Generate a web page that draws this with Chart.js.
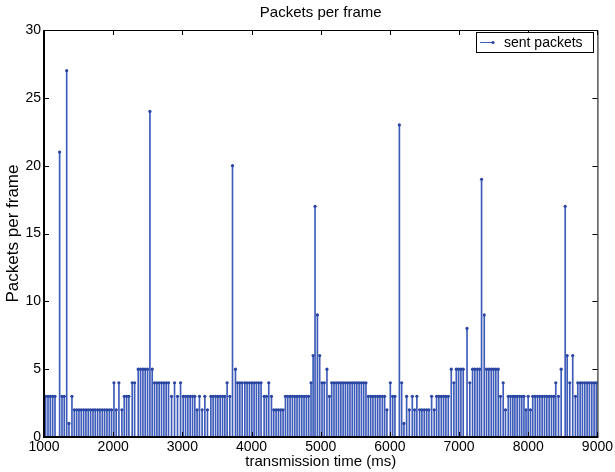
<!DOCTYPE html>
<html>
<head>
<meta charset="utf-8">
<title>Packets per frame</title>
<script src="https://cdn.jsdelivr.net/npm/chart.js@4.4.0/dist/chart.umd.min.js"></script>
<style>
  html, body { margin: 0; padding: 0; background: #fff; }
  #packetsChart { display: block; }
</style>
</head>
<body>
<canvas id="packetsChart" width="615" height="472"></canvas>
<script>
// frame transmission times (ms)
var frameTimes = [
    1024, 1058, 1091, 1125, 1159, 1226, 1260, 1293, 1328, 1361,
    1404, 1438, 1472, 1505, 1539, 1573, 1606, 1640, 1674, 1708,
    1741, 1775, 1809, 1843, 1876, 1910, 1944, 1977, 2011, 2044,
    2083, 2126, 2160, 2194, 2227, 2275, 2310, 2362, 2396, 2430,
    2463, 2497, 2531, 2564, 2598, 2632, 2665, 2699, 2733, 2766,
    2800, 2844, 2887, 2930, 2974, 3012, 3046, 3079, 3113, 3147,
    3180, 3213, 3247, 3286, 3325, 3363, 3412, 3445, 3480, 3513,
    3547, 3581, 3614, 3647, 3686, 3725, 3768, 3798, 3831, 3865,
    3903, 3936, 3970, 4004, 4037, 4071, 4105, 4138, 4182, 4216,
    4249, 4288, 4321, 4355, 4389, 4422, 4456, 4490, 4523, 4557,
    4591, 4625, 4658, 4692, 4726, 4759, 4793, 4826, 4860, 4890,
    4918, 4952, 4985, 5019, 5052, 5090, 5126, 5159, 5192, 5225,
    5258, 5291, 5324, 5357, 5390, 5423, 5456, 5489, 5522, 5555,
    5588, 5621, 5654, 5688, 5722, 5755, 5790, 5823, 5856, 5891,
    5924, 5957, 6006, 6040, 6073, 6137, 6170, 6203, 6242, 6281,
    6324, 6357, 6390, 6430, 6463, 6497, 6531, 6564, 6603, 6641,
    6675, 6708, 6743, 6776, 6809, 6844, 6887, 6925, 6960, 6993,
    7026, 7060, 7115, 7155, 7195, 7228, 7263, 7296, 7325, 7364,
    7397, 7430, 7465, 7498, 7531, 7566, 7599, 7638, 7671, 7711,
    7744, 7777, 7807, 7840, 7874, 7906, 7938, 7968, 7999, 8032,
    8065, 8100, 8134, 8167, 8201, 8235, 8268, 8302, 8336, 8369,
    8398, 8437, 8476, 8534, 8563, 8600, 8643, 8682, 8716, 8750,
    8783, 8817, 8851, 8884, 8918, 8952, 8985
];

// packets sent in each frame
var sentPackets = [
    3, 3, 3, 3, 3, 21, 3, 3, 27, 1,
    3, 2, 2, 2, 2, 2, 2, 2, 2, 2,
    2, 2, 2, 2, 2, 2, 2, 2, 4, 2,
    4, 2, 3, 3, 3, 4, 4, 5, 5, 5,
    5, 5, 24, 5, 4, 4, 4, 4, 4, 4,
    4, 3, 4, 3, 4, 3, 3, 3, 3, 3,
    3, 2, 3, 2, 3, 2, 3, 3, 3, 3,
    3, 3, 3, 4, 3, 20, 5, 4, 4, 4,
    4, 4, 4, 4, 4, 4, 4, 4, 3, 3,
    4, 3, 2, 2, 2, 2, 2, 3, 3, 3,
    3, 3, 3, 3, 3, 3, 3, 3, 4, 6,
    17, 9, 6, 4, 4, 5, 3, 4, 4, 4,
    4, 4, 4, 4, 4, 4, 4, 4, 4, 4,
    4, 4, 4, 3, 3, 3, 3, 3, 3, 3,
    3, 2, 4, 3, 3, 23, 4, 1, 3, 2,
    3, 2, 3, 2, 2, 2, 2, 2, 3, 2,
    3, 3, 3, 3, 3, 3, 5, 4, 5, 5,
    5, 5, 8, 4, 5, 5, 5, 5, 19, 9,
    5, 5, 5, 5, 5, 5, 3, 4, 2, 3,
    3, 3, 3, 3, 3, 3, 3, 2, 3, 2,
    3, 3, 3, 3, 3, 3, 3, 3, 3, 3,
    4, 3, 5, 17, 6, 4, 6, 3, 4, 4,
    4, 4, 4, 4, 4, 4, 4
];

var xTicks = [1000, 2000, 3000, 4000, 5000, 6000, 7000, 8000, 9000];
var yTicks = [0, 5, 10, 15, 20, 25, 30];

var chartTitle = "Packets per frame";
var fontFamily = "'Liberation Sans', Arial, Helvetica, sans-serif";
var stemColor = "#3d5bb9";
var markerColor = "#2a46a2";

var points = frameTimes.map(function (t, i) {
    return { x: t, y: sentPackets[i] };
});

// title centred over the axes, not the whole canvas
var axesTitle = {
    id: 'axesTitle',
    afterDraw: function (chart) {
        var ctx = chart.ctx, a = chart.chartArea;
        ctx.save();
        ctx.fillStyle = '#000';
        ctx.font = "15px " + fontFamily;
        ctx.textAlign = 'center';
        ctx.textBaseline = 'middle';
        ctx.fillText(chartTitle, (a.left + a.right) / 2, 13);
        ctx.restore();
    }
};

// matlab style box with inward ticks on all four sides
var axesFrame = {
    id: 'axesFrame',
    afterDatasetsDraw: function (chart) {
        var ctx = chart.ctx, a = chart.chartArea;
        var xs = chart.scales.x, ys = chart.scales.y;
        var tick = 5;
        ctx.save();
        ctx.strokeStyle = '#000';
        ctx.lineWidth = 1;
        ctx.beginPath();
        xTicks.forEach(function (v) {
            var px = Math.round(xs.getPixelForValue(v)) + 0.5;
            ctx.moveTo(px, a.bottom); ctx.lineTo(px, a.bottom - tick);
            ctx.moveTo(px, a.top); ctx.lineTo(px, a.top + tick);
        });
        yTicks.forEach(function (v) {
            var py = Math.round(ys.getPixelForValue(v)) + 0.5;
            ctx.moveTo(a.left, py); ctx.lineTo(a.left + tick, py);
            ctx.moveTo(a.right, py); ctx.lineTo(a.right - tick, py);
        });
        ctx.stroke();
        // top and right edges
        ctx.beginPath();
        ctx.moveTo(a.left, a.top + 0.5); ctx.lineTo(a.right + 0.5, a.top + 0.5);
        ctx.lineTo(a.right + 0.5, a.bottom);
        ctx.stroke();
        // left and bottom edges, heavier
        ctx.lineWidth = 2;
        ctx.beginPath();
        ctx.moveTo(a.left, a.top); ctx.lineTo(a.left, a.bottom);
        ctx.lineTo(a.right + 1, a.bottom);
        ctx.stroke();
        ctx.restore();
    }
};

// legend box in the upper right corner of the axes
var legendBox = {
    id: 'legendBox',
    afterDatasetsDraw: function (chart) {
        var ctx = chart.ctx, a = chart.chartArea;
        var w = 117, h = 20;
        var left = Math.round(a.right) - 4 - w, top = Math.round(a.top) + 2;
        var midY = top + h / 2;
        ctx.save();
        ctx.fillStyle = '#fff';
        ctx.fillRect(left, top, w, h);
        ctx.strokeStyle = '#000';
        ctx.lineWidth = 1;
        ctx.strokeRect(left + 0.5, top + 0.5, w, h);
        ctx.strokeStyle = stemColor;
        ctx.beginPath();
        ctx.moveTo(left + 4, midY + 0.5);
        ctx.lineTo(left + 17, midY + 0.5);
        ctx.stroke();
        ctx.fillStyle = markerColor;
        ctx.beginPath();
        ctx.arc(left + 17, midY + 0.5, 1.6, 0, Math.PI * 2);
        ctx.fill();
        ctx.fillStyle = '#000';
        ctx.font = "14px " + fontFamily;
        ctx.textBaseline = 'middle';
        ctx.textAlign = 'left';
        ctx.fillText(chart.data.datasets[0].label, left + 28, midY + 1);
        ctx.restore();
    }
};

var packetsCtx = document.getElementById("packetsChart").getContext("2d");

var packetsChart = new Chart(packetsCtx, {
    type: "bar",
    data: {
        datasets: [{
            type: "line",
            label: "sent packets",
            data: points,
            showLine: false,
            pointRadius: 1.6,
            pointBorderWidth: 0,
            pointBackgroundColor: markerColor,
            order: 0
        }, {
            type: "bar",
            label: "stems",
            data: points,
            backgroundColor: stemColor,
            borderWidth: 0,
            barThickness: 1,
            order: 1
        }]
    },
    options: {
        responsive: false,
        animation: false,
        events: [],
        layout: { padding: { left: 0, right: 17, top: 30, bottom: 0 } },
        plugins: {
            legend: { display: false },
            tooltip: { enabled: false },
            title: { display: false }
        },
        scales: {
            x: {
                type: "linear",
                min: 1000,
                max: 9000,
                offset: false,
                grid: { display: false, drawTicks: false },
                border: { display: false },
                afterBuildTicks: function (s) {
                    s.ticks = xTicks.map(function (v) { return { value: v }; });
                },
                afterFit: function (s) { s.height = 35; },
                ticks: {
                    color: "#000",
                    font: { family: fontFamily, size: 14 },
                    padding: 2,
                    maxRotation: 0,
                    autoSkip: false,
                    callback: function (v) { return String(v); }
                },
                title: {
                    display: true,
                    text: "transmission time (ms)",
                    color: "#000",
                    font: { family: fontFamily, size: 15 },
                    padding: { top: 0, bottom: 1 }
                }
            },
            y: {
                type: "linear",
                min: 0,
                max: 30,
                grid: { display: false, drawTicks: false },
                border: { display: false },
                afterBuildTicks: function (s) {
                    s.ticks = yTicks.map(function (v) { return { value: v }; });
                },
                afterFit: function (s) { s.width = 44; },
                ticks: {
                    color: "#000",
                    font: { family: fontFamily, size: 14 },
                    padding: 3,
                    callback: function (v) { return String(v); }
                },
                title: {
                    display: true,
                    text: "Packets per frame",
                    color: "#000",
                    font: { family: fontFamily, size: 17 },
                    padding: { top: 3, bottom: 0 }
                }
            }
        }
    },
    plugins: [axesFrame, legendBox, axesTitle]
});
</script>
</body>
</html>
